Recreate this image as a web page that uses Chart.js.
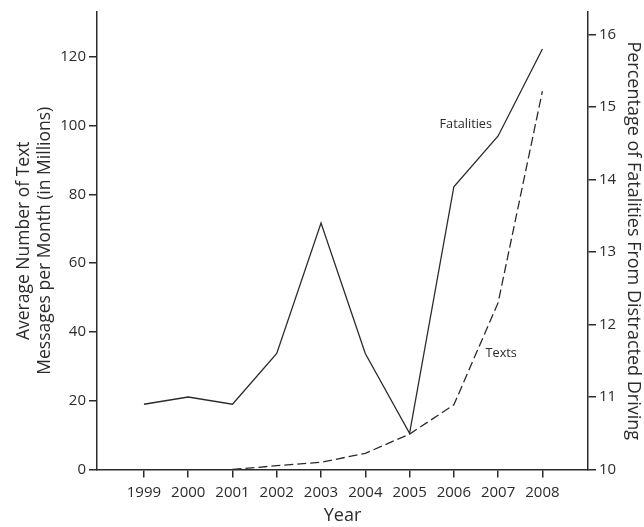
<!DOCTYPE html>
<html><head><meta charset="utf-8">
<script src="https://cdn.jsdelivr.net/npm/chart.js@4.4.1/dist/chart.umd.min.js"></script>
<style>html,body{margin:0;padding:0;background:#fff}</style>
</head><body>
<canvas id="c" width="644" height="527"></canvas>
<script>
const years = [1999, 2000, 2001, 2002, 2003, 2004, 2005, 2006, 2007, 2008];
const fatalities = [10.9, 11.0, 10.9, 11.6, 13.4, 11.6, 10.5, 13.9, 14.6, 15.8];
const texts = [null, null, 0, 1.1, 2.1, 4.7, 10.3, 18.8, 48.5, 110];
const leftTicks = [0, 20, 40, 60, 80, 100, 120];
const rightTicks = [10, 11, 12, 13, 14, 15, 16];
const seriesNames = ['Fatalities', 'Texts'];
const leftTitle = ['Average Number of Text', 'Messages per Month (in Millions)'];
const rightTitle = 'Percentage of Fatalities From Distracted Driving';
const xTitle = 'Year';

const INK = '#2b2b2b';
const FONT = "'Open Sans', sans-serif";

function pts(vals) {
  const out = [];
  years.forEach((y, i) => { if (vals[i] !== null) out.push({x: y, y: vals[i]}); });
  return out;
}

const notes = [
  {text: seriesNames[0], x: 2006.27, y: 14.76, axis: 'yR'},
  {text: seriesNames[1], x: 2007.07, y: 33.7, axis: 'yL'}
];

const notePlugin = {
  id: 'notes',
  afterDatasetsDraw(chart) {
    const ctx = chart.ctx;
    ctx.save();
    ctx.fillStyle = INK;
    ctx.font = "12.7px " + FONT;
    ctx.textAlign = 'center';
    ctx.textBaseline = 'middle';
    notes.forEach(n => {
      ctx.fillText(n.text, chart.scales.x.getPixelForValue(n.x), chart.scales[n.axis].getPixelForValue(n.y));
    });
    ctx.restore();
  }
};

const axisCommon = {
  border: {display: true, color: INK, width: 1.5},
  grid: {drawOnChartArea: false, color: INK, lineWidth: 1.5, tickLength: 8},
};

new Chart(document.getElementById('c'), {
  type: 'line',
  data: {
    datasets: [
      {label: seriesNames[0], data: pts(fatalities), yAxisID: 'yR', borderColor: INK, borderWidth: 1.3,
       pointRadius: 0, tension: 0, fill: false},
      {label: seriesNames[1], data: pts(texts), yAxisID: 'yL', borderColor: INK, borderWidth: 1.3,
       borderDash: [9, 4], pointRadius: 0, tension: 0, fill: false}
    ]
  },
  options: {
    responsive: false,
    animation: false,
    layout: {padding: {top: 9, left: 0, right: 0, bottom: 0}},
    plugins: {legend: {display: false}, tooltip: {enabled: false}},
    scales: {
      x: {
        type: 'linear', min: 1997.94, max: 2009.03,
        ...axisCommon,
        afterBuildTicks: s => { s.ticks = years.map(v => ({value: v})); },
        afterFit: s => { s.height = 57.5; },
        ticks: {color: INK, font: {family: FONT, size: 15}, padding: 6, maxRotation: 0,
                callback: v => String(v)},
        title: {display: true, text: xTitle, color: INK, font: {family: FONT, size: 18}, padding: {top: 0, bottom: 0}}
      },
      yL: {
        type: 'linear', position: 'left', min: 0, max: 133,
        ...axisCommon,
        afterBuildTicks: s => { s.ticks = leftTicks.map(v => ({value: v})); },
        afterFit: s => { s.width = 97; },
        ticks: {color: INK, font: {family: FONT, size: 15}, padding: 3},
        title: {display: true, text: leftTitle, color: INK, font: {family: FONT, size: 17.5, lineHeight: 1.2}, padding: {top: 14, bottom: 0}}
      },
      yR: {
        type: 'linear', position: 'right', min: 10, max: 16.31,
        ...axisCommon,
        afterBuildTicks: s => { s.ticks = rightTicks.map(v => ({value: v})); },
        afterFit: s => { s.width = 56; },
        ticks: {color: INK, font: {family: FONT, size: 15}, padding: 3},
        title: {display: true, text: rightTitle, color: INK, font: {family: FONT, size: 18}, padding: {top: 0, bottom: 4}}
      }
    }
  },
  plugins: [notePlugin]
});
</script>
</body></html>
